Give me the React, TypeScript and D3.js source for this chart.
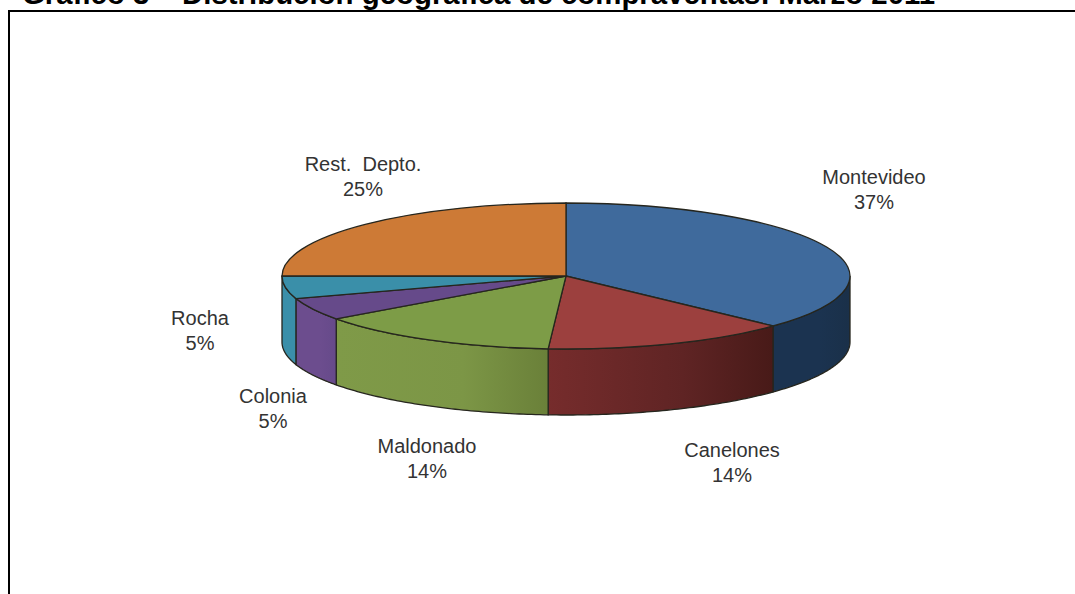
import React from "react";
import * as d3 from "d3";

const categories = ["Montevideo", "Canelones", "Maldonado", "Colonia", "Rocha", "Rest.\u00a0 Depto."];
const shares = [37, 14, 14, 5, 5, 25];
const topColors = ["#3f6a9c", "#9c403e", "#7d9c47", "#664a8a", "#3a8fa9", "#cd7a36"];
const wallLeft = ["#1b3350", "#762c2c", "#7f9a48", "#6c4d8e", "#3a8fa9", "#cd7a36"];
const wallMid = ["#1b3350", "#5f2424", "#7c9646", "#6c4d8e", "#3a8fa9", "#cd7a36"];
const wallRight = ["#1a3049", "#481a18", "#6a8039", "#664a8a", "#3a8fa9", "#cd7a36"];
const titleText = "Gráfico 3 – Distribución geográfica de compraventas: Marzo 2011";
const labelX = [874, 732, 427, 273, 200, 363];
const labelY = [184, 457, 453, 403, 325, 171];

const WIDTH = 1075;
const HEIGHT = 594;
const CX = 566;
const CY = 276;
const RX = 284;
const RY = 73;
const DEPTH = 66;
const EDGE = "#26261e";

// Ellipse projection: angle 0 sits at twelve o'clock and runs clockwise.
const px = (a: number) => CX + RX * Math.sin(a);
const py = (a: number) => CY - RY * Math.cos(a);

const pie = d3.pie<number>().sort(null).value((d) => d);
const arcs = pie(shares);
const unitArc = d3.arc<d3.PieArcDatum<number>>().innerRadius(0).outerRadius(RX);

// Outer wall of a slice, limited to the part of the rim facing the viewer.
function wallPath(start: number, end: number) {
  const from = Math.max(start, Math.PI / 2);
  const to = Math.min(end, (3 * Math.PI) / 2);
  if (to <= from) return null;
  const steps = d3.range(0, 61).map((i) => from + ((to - from) * i) / 60);
  const line = d3.line<[number, number]>();
  const rim: [number, number][] = steps.map((a) => [px(a), py(a)]);
  const lower: [number, number][] = steps
    .slice()
    .reverse()
    .map((a) => [px(a), py(a) + DEPTH]);
  return { d: line([...rim, ...lower]) + "Z", x1: px(from), x2: px(to) };
}

export default function App() {
  return (
    <svg
      width={WIDTH}
      height={HEIGHT}
      viewBox={`0 0 ${WIDTH} ${HEIGHT}`}
      style={{ position: "absolute", left: 0, top: 0, background: "#fff" }}
    >
      <defs>
        {arcs.map((a, i) => {
          const wall = wallPath(a.startAngle, a.endAngle);
          if (!wall) return null;
          // Walls left of centre run dark on their right side, and so do those right of it.
          return (
            <linearGradient
              key={i}
              id={`wall-${i}`}
              gradientUnits="userSpaceOnUse"
              x1={Math.min(wall.x1, wall.x2)}
              x2={Math.max(wall.x1, wall.x2)}
              y1={0}
              y2={0}
            >
              <stop offset="0%" stopColor={wallLeft[i]} />
              <stop offset="60%" stopColor={wallMid[i]} />
              <stop offset="100%" stopColor={wallRight[i]} />
            </linearGradient>
          );
        })}
      </defs>

      <text
        x={22}
        y={4}
        fontFamily="Liberation Sans"
        fontWeight={700}
        fontSize={29.4}
        fill="#000"
      >
        {titleText}
      </text>
      <path d={`M9 ${HEIGHT}V11H${WIDTH}`} fill="none" stroke="#000" strokeWidth={2} />

      {arcs.map((a, i) => {
        const wall = wallPath(a.startAngle, a.endAngle);
        return wall ? (
          <path key={i} d={wall.d} fill={`url(#wall-${i})`} stroke={EDGE} strokeWidth={1.3} />
        ) : null;
      })}

      <g transform={`translate(${CX},${CY}) scale(1,${RY / RX})`}>
        {arcs.map((a, i) => (
          <path
            key={i}
            d={unitArc(a) ?? ""}
            fill={topColors[i]}
            stroke={EDGE}
            strokeWidth={1.3}
            vectorEffect="non-scaling-stroke"
          />
        ))}
      </g>

      {categories.map((c, i) => (
        <text
          key={c}
          textAnchor="middle"
          fontFamily="Liberation Sans"
          fontSize={20}
          fill="#333"
        >
          <tspan x={labelX[i]} y={labelY[i]}>
            {c}
          </tspan>
          <tspan x={labelX[i]} y={labelY[i] + 24.5}>
            {shares[i]}%
          </tspan>
        </text>
      ))}
    </svg>
  );
}
